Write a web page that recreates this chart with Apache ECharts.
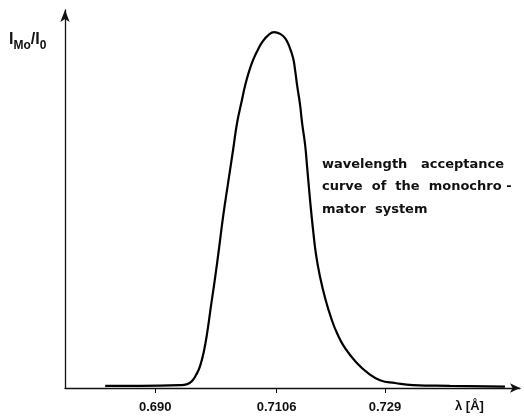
<!DOCTYPE html>
<html>
<head>
<meta charset="utf-8">
<script src="https://cdn.jsdelivr.net/npm/echarts@6/dist/echarts.min.js"></script>
<style>html,body{margin:0;padding:0;background:#fff}#c{width:524px;height:417px}</style>
</head>
<body>
<div id="c"></div>
<script>
// wavelength (Å)
const wavelengths = [0.68152, 0.68746, 0.69424, 0.69543, 0.69627, 0.69695, 0.69763, 0.69831, 0.69882, 0.69950, 0.70017, 0.70085, 0.70153, 0.70238, 0.70323, 0.70391, 0.70475, 0.70526, 0.70594, 0.70662, 0.70747, 0.70831, 0.70916, 0.71018, 0.71120, 0.71204, 0.71272, 0.71340, 0.71374, 0.71408, 0.71459, 0.71493, 0.71544, 0.71578, 0.71628, 0.71679, 0.71730, 0.71798, 0.71883, 0.71985, 0.72086, 0.72222, 0.72425, 0.72612, 0.72815, 0.73070, 0.73375, 0.74002, 0.74935];
// relative intensity I_Mo / I_0
const intensity = [0.006, 0.006, 0.008, 0.011, 0.020, 0.037, 0.062, 0.107, 0.155, 0.234, 0.310, 0.394, 0.482, 0.577, 0.670, 0.746, 0.811, 0.850, 0.890, 0.922, 0.952, 0.975, 0.991, 1.000, 0.995, 0.983, 0.961, 0.927, 0.893, 0.851, 0.795, 0.744, 0.683, 0.621, 0.528, 0.444, 0.374, 0.312, 0.253, 0.197, 0.154, 0.112, 0.070, 0.042, 0.022, 0.014, 0.008, 0.006, 0.004];
const tickValues = [0.690, 0.7106, 0.729];
const tickLabels = ['0.690', '0.7106', '0.729'];
const xAxisName = 'λ [Å]';
const annotation = ['wavelength   acceptance', 'curve  of  the  monochro -', 'mator  system'];

const chart = echarts.init(document.getElementById('c'), null, {renderer: 'canvas'});
const font = 'DejaVu Sans';
const lfont = 'Liberation Sans';
chart.setOption({
  animation: false,
  backgroundColor: '#fff',
  grid: {left: 65, right: 4, top: 10, bottom: 29, containLabel: false},
  xAxis: {
    type: 'value', min: 0.6747, max: 0.7519,
    axisLine: {show: true, symbol: ['none', 'arrow'], symbolSize: [7, 10], lineStyle: {color: '#111', width: 1.3}},
    splitLine: {show: false},
    axisTick: {show: true, customValues: tickValues, length: 5, inside: false, lineStyle: {color: '#111'}},
    axisLabel: {
      customValues: tickValues, margin: 13, color: '#111', fontFamily: lfont, fontSize: 13, fontWeight: 'bold',
      formatter: v => { const i = tickValues.findIndex(t => Math.abs(t - v) < 1e-6); return i >= 0 ? tickLabels[i] : ''; }
    }
  },
  yAxis: {
    type: 'value', min: 0, max: 1.062,
    axisLine: {show: true, symbol: ['none', 'arrow'], symbolSize: [7, 12], lineStyle: {color: '#111', width: 1.3}},
    axisTick: {show: false}, axisLabel: {show: false}, splitLine: {show: false}
  },
  series: [{
    type: 'line', smooth: 0.5, symbol: 'none',
    data: wavelengths.map((w, i) => [w, intensity[i]]),
    lineStyle: {color: '#000', width: 2.2}
  }],
  graphic: [
    {type: 'text', left: 455, top: 400, style: {text: xAxisName, fill: '#111', font: 'bold 13px ' + lfont}},
    {type: 'text', left: 9, top: 32, style: {
      text: '{m|I}{s|Mo}{m|/I}{s|0}',
      rich: {
        m: {fontFamily: lfont, fontSize: 16, fontWeight: 'bold', fill: '#111', verticalAlign: 'top', lineHeight: 20},
        s: {fontFamily: lfont, fontSize: 12, fontWeight: 'bold', fill: '#111', verticalAlign: 'bottom', lineHeight: 20, padding: [8, 0, 0, 0]}
      }
    }},
    {type: 'text', left: 322, top: 153, style: {text: annotation.join('\n'), fill: '#111', font: 'bold 13px ' + font, lineHeight: 22.5}}
  ]
});
</script>
</body>
</html>
